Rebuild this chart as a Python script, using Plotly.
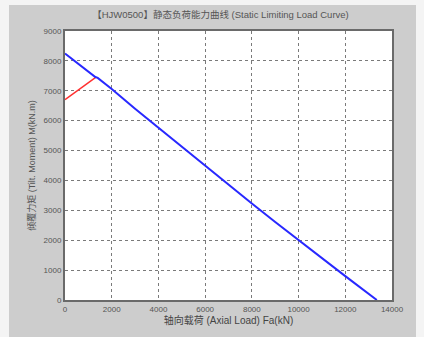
import plotly.graph_objects as go

# Data
blue_x = [0, 600, 1200, 1300, 1400, 2000, 3000, 4000, 5000, 6000, 7000, 8000, 9000, 10000, 11000, 12000, 13350]
blue_y = [8250, 7880, 7540, 7460, 7430, 7060, 6400, 5760, 5130, 4500, 3870, 3230, 2610, 2000, 1390, 800, 0]
red_x = [0, 1300]
red_y = [6700, 7440]

x_ticks = [0, 2000, 4000, 6000, 8000, 10000, 12000, 14000]
y_ticks = [0, 1000, 2000, 3000, 4000, 5000, 6000, 7000, 8000, 9000]

title_text = "【HJW0500】静态负荷能力曲线 (Static Limiting Load Curve)"
x_label = "轴向载荷 (Axial Load) Fa(kN)"
y_label = "倾覆力矩 (Tilt. Moment) M(kN.m)"

fig = go.Figure()
fig.add_trace(go.Scatter(x=red_x, y=red_y, mode="lines",
                         line=dict(color="#ff3030", width=1.5), showlegend=False))
fig.add_trace(go.Scatter(x=blue_x, y=blue_y, mode="lines",
                         line=dict(color="#2828ff", width=2), showlegend=False))

fnt = "Liberation Sans, Noto Sans CJK SC, sans-serif"
axis_common = dict(
    showgrid=True, gridcolor="#7a7a7a", griddash="dot", gridwidth=1,
    showline=True, linecolor="#6a6a6a", linewidth=2, mirror=True,
    zeroline=False, ticks="", automargin=False,
    tickfont=dict(size=8, color="#555555", family=fnt),
)

W, H = 327, 269
strip = dict(type="rect", xref="paper", yref="paper", layer="above",
             fillcolor="#f4f4f4", line=dict(width=0))

fig.update_layout(
    width=424, height=337,
    margin=dict(l=65, r=32, t=31, b=37, autoexpand=False),
    paper_bgcolor="#cdcdcd", plot_bgcolor="#ffffff",
    title=dict(text=title_text, x=0.52, xanchor="center", y=0.955, yanchor="middle",
               font=dict(size=9.5, color="#555555", family=fnt), automargin=False),
    xaxis=dict(range=[0, 14000], tickvals=x_ticks, ticktext=[str(v) for v in x_ticks],
               title=dict(text=x_label, standoff=2, font=dict(size=10, color="#444444", family=fnt)),
               **axis_common),
    yaxis=dict(range=[0, 9000], tickvals=y_ticks, ticktext=[str(v) for v in y_ticks],
               title=dict(text=y_label, standoff=6, font=dict(size=9, color="#555555", family=fnt)),
               **axis_common),
    shapes=[
        dict(strip, x0=-65/W, x1=-56/W, y0=-37/H, y1=1 + 31/H),
        dict(strip, x0=-65/W, x1=1 + 32/W, y0=1 + 26/H, y1=1 + 31/H),
        dict(strip, x0=1 + 24/W, x1=1 + 32/W, y0=-37/H, y1=1 + 31/H),
    ],
)

fig.write_html("out.html", config={"displayModeBar": False},
               post_script="document.body.style.margin='0';document.body.style.background='#f4f4f4';")
